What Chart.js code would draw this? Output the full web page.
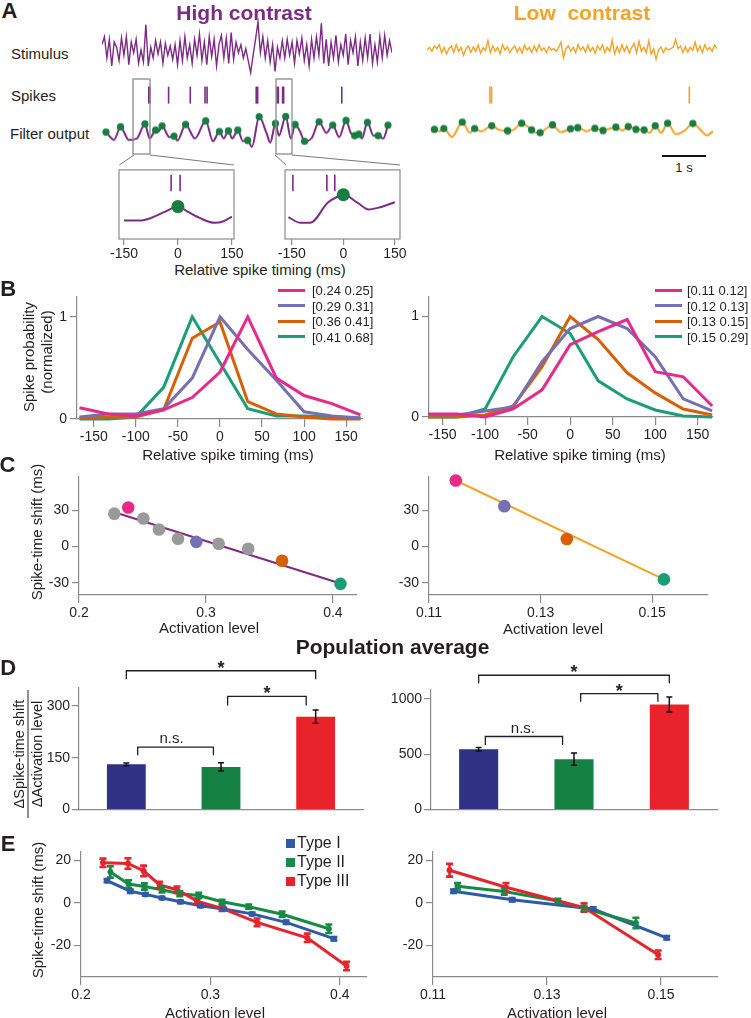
<!DOCTYPE html>
<html><head><meta charset="utf-8">
<script src="https://cdn.jsdelivr.net/npm/chart.js@4.4.1/dist/chart.umd.min.js"></script>
<style>
body{margin:0;background:#fff;}
#page{position:relative;width:751px;height:1018px;overflow:hidden;font-family:"Liberation Sans",Arial,Helvetica,sans-serif;color:#231f20;}
.t{position:absolute;white-space:pre;line-height:1;}
.c{transform:translate(-50%,-50%);}
.l{transform:translate(0,-50%);}
.v{transform:translate(-50%,-50%) rotate(-90deg);}
svg{position:absolute;left:0;top:0;}
</style></head><body><div id="page"></div>
<script>
// ---------------- DATA ----------------
// Panel A: stimulus samples (arbitrary units)
const stimHigh=[0.2,0.5,-0.3,0.4,-0.6,0.3,0.1,-0.4,0.45,-0.2,0.5,-0.55,0.3,
 -0.1,0.4,-0.5,0.0,-0.45,0.95,-0.6,
 0.1,-0.3,0.35,-0.15,0.3,-0.5,0.25,-0.2,0.15,-0.35,0.2,
 -0.55,0.35,-0.4,0.5,-0.3,0.2,-0.5,0.4,-0.2,0.6,-0.4,
 0.3,-0.55,0.5,-0.25,0.4,-0.6,0.2,0.55,-0.3,0.45,-0.5,0.65,-0.35,0.3,
 -0.1,0.2,-0.3,0.05,-0.4,-0.85,-0.2,
 0.4,1.05,-0.1,0.5,-0.3,
 0.35,-0.45,0.2,-0.8,0.1,-0.3,0.35,
 -0.3,0.4,-0.2,0.3,-0.5,0.35,-0.15,0.45,-0.4,0.2,-0.6,0.4,-0.3,0.5,-0.2,1.0,
 -0.5,0.4,-0.6,0.3,-0.3,0.55,-0.45,0.2,-0.2,0.6,-0.55,0.35,-0.1,0.5,-0.6,0.3,-0.4,0.45,-0.3,0.6,-0.5,0.2,-0.45,0.5,-0.3,0.55,-0.2,0.35,-0.1];
const stimLow=[0.0,0.1,-0.05,0.15,0.05,0.2,-0.1,0.1,-0.15,0.05,
 0.15,-0.1,0.2,-0.05,0.1,-0.2,0.05,0.15,-0.1,0.12,
 -0.05,0.18,-0.12,0.08,-0.02,0.35,-0.1,0.15,-0.05,0.1,
 -0.15,0.2,0.0,0.12,-0.1,0.05,0.15,-0.08,0.1,-0.12,
 0.18,0.0,0.1,-0.1,0.15,-0.05,0.2,-0.02,0.08,-0.1,
 0.12,0.0,0.05,-0.05,0.1,0.3,-0.3,0.05,0.15,-0.05,
 0.1,-0.1,0.2,0.0,0.12,-0.08,0.18,-0.05,0.1,-0.12,
 0.15,0.0,0.2,-0.1,0.1,-0.05,0.37,-0.15,0.12,-0.1,
 0.2,-0.05,0.15,-0.12,0.1,0.25,-0.1,0.32,-0.05,0.1,
 -0.1,0.34,-0.15,0.05,-0.35,0.0,0.12,-0.1,0.08,0.0,
 0.05,0.1,0.4,0.05,0.15,-0.1,0.12,-0.08,0.1,-0.02,
 0.3,-0.05,0.15,-0.1,0.2,0.0,0.1,-0.05,0.18,0.05];
// spike times (s)
const spikesHigh=[0.896,0.921,1.38,1.91,2.27,2.32,3.52,3.555,4.03,4.06,4.165,4.19,5.61];
const spikesLow=[1.29,1.33,6.16];
// filter output (time s, value)
const filtHT=[0.00,0.19,0.34,0.53,0.72,0.91,1.02,1.16,1.23,1.31,1.48,1.59,1.67,1.86,2.08,2.33,2.50,2.65,2.75,2.86,2.95,3.08,3.20,3.31,3.41,3.58,3.75,3.84,3.96,4.04,4.20,4.32,4.42,4.55,4.64,4.81,4.98,5.15,5.30,5.45,5.61,5.72,5.81,5.91,5.98,6.11,6.25,6.36,6.48,6.59];
const filtHV=[0.06,-0.5,0.44,-0.5,-0.4,0.64,-0.4,0.2,0.1,0.5,-0.3,-0.24,-0.55,0.6,-0.4,0.86,-0.6,0.1,-0.4,0.14,-0.4,0.2,-0.6,-0.54,-1.0,1.16,0.0,-0.7,0.68,-0.2,1.18,-0.4,0.6,0.0,-0.6,-0.36,0.8,0.0,0.56,-0.3,0.9,0.0,-0.2,-0.1,-0.4,0.76,-0.2,-0.2,-0.4,0.56];
const dotHT=[0.00,0.34,0.91,1.16,1.31,1.59,1.86,2.33,2.65,2.86,3.08,3.31,3.58,3.96,4.20,4.42,4.64,4.98,5.30,5.61,5.81,5.91,6.11,6.36,6.59];
const dotHV=[0.06,0.44,0.64,0.2,0.5,-0.24,0.6,0.86,0.1,0.14,0.2,-0.54,1.16,0.68,1.18,0.6,-0.6,0.8,0.56,0.9,-0.2,-0.1,0.76,-0.2,0.56];
const filtLT=[0.00,0.08,0.19,0.30,0.49,0.73,0.91,1.02,1.17,1.42,1.59,1.79,1.93,2.12,2.35,2.46,2.55,2.69,2.84,3.03,3.26,3.43,3.64,3.83,4.02,4.32,4.47,4.61,4.79,4.98,5.11,5.24,5.38,5.53,5.72,5.91,6.12,6.33,6.44,6.59];
const filtLV=[-0.1,0.04,-0.1,0.1,-0.5,0.56,-0.2,0.1,-0.1,0.3,0.0,-0.06,0.0,0.48,0.0,-0.2,-0.2,0.1,0.36,-0.16,0.08,0.16,-0.1,0.12,-0.04,0.2,-0.04,0.24,0.04,0.0,-0.2,0.3,-0.2,0.48,-0.3,-0.1,0.46,-0.1,-0.4,-0.1];
const dotLT=[0.08,0.30,0.73,1.02,1.42,1.79,2.12,2.35,2.55,2.84,3.26,3.43,3.83,4.02,4.32,4.61,4.79,4.98,5.24,5.53,6.12];
const dotLV=[0.04,0.1,0.56,0.1,0.3,-0.06,0.48,0.0,-0.2,0.36,0.08,0.16,0.12,-0.04,0.2,0.24,0.04,0.0,0.3,0.48,0.46];
// insets (ms, value)
const inset1T=[-150,-106,-76,-37,0,28,62,101,127,150];
const inset1V=[0.57,0.57,0.83,1.5,2.07,1.5,0.83,0.33,0.5,1.0];
const inset1Spikes=[-19,6];
const inset2T=[-160,-125,-97,-45,-16,0,41,74,107,150];
const inset2V=[0.93,0.33,0.33,2.5,3.15,3.35,2.5,1.77,2.0,2.53];
const inset2Spikes=[-147,-48,-25];
const insetTicks=[-150,0,150];
// Panel B
const bins=[-167,-133,-100,-67,-33,0,33,67,100,133,167];
const bTicks=[-150,-100,-50,0,50,100,150];
const legHigh=['[0.24 0.25]','[0.29 0.31]','[0.36 0.41]','[0.41 0.68]'];
const legLow=['[0.11 0.12]','[0.12 0.13]','[0.13 0.15]','[0.15 0.29]'];
const probHigh1=[0.11,0.05,0.03,0.09,0.21,0.46,1.0,0.40,0.23,0.15,0.04];
const probHigh2=[0.02,0.05,0.05,0.10,0.40,1.0,0.68,0.38,0.07,0.03,0.01];
const probHigh3=[0.01,0.02,0.02,0.09,0.79,0.95,0.17,0.05,0.02,0.0,0.0];
const probHigh4=[0.0,0.0,0.02,0.31,1.0,0.55,0.10,0.03,0.03,0.02,0.01];
const probLow1=[0.03,0.03,0.0,0.08,0.27,0.72,0.85,0.97,0.45,0.40,0.11];
const probLow2=[0.02,0.02,0.06,0.10,0.55,0.88,1.0,0.88,0.60,0.18,0.06];
const probLow3=[0.0,0.0,0.02,0.11,0.50,1.0,0.77,0.44,0.24,0.08,0.02];
const probLow4=[0.0,0.0,0.08,0.60,1.0,0.83,0.36,0.18,0.07,0.01,0.0];
// Panel C
const actHighC=[0.2278,0.2388,0.2507,0.263,0.278,0.2924,0.310,0.3333,0.360,0.406];
const shiftHighC=[27.2,32.3,23.2,14.1,6.5,3.9,2.3,-1.8,-11.7,-30.8];
const groupHighC=['g','p','g','g','g','b','g','g','o','t'];
const fitHighX=[0.2305,0.406];
const fitHighY=[27.5,-30.5];
const actLowC=[0.1148,0.1235,0.1347,0.1521];
const shiftLowC=[54.6,33.4,6.3,-27.1];
const groupLowC=['p','b','o','t'];
const fitLowX=[0.1148,0.1521];
const fitLowY=[54.6,-27.1];
// Panel D
const types=['Type I','Type II','Type III'];
const slopeHigh=[131,123.5,269];
const slopeHighErr=[4,12,19];
const slopeLow=[545,455,949];
const slopeLowErr=[15,55,68];
// Panel E
const eActI=[0.2201,0.2381,0.2497,0.2626,0.2768,0.2923,0.3103,0.3322,0.3585,0.3954];
const eShiftI=[10.5,5.5,4.0,2.3,0.5,-1.4,-2.9,-5.2,-9.2,-16.9];
const eErrI=[0.8,0.8,0.6,0.6,0.6,0.6,0.6,0.6,0.8,0.8];
const eActII=[0.2227,0.2368,0.249,0.2626,0.2763,0.291,0.309,0.3296,0.3554,0.3915];
const eShiftII=[14.6,8.9,7.7,6.2,4.3,3.5,0.5,-1.8,-5.4,-12.2];
const eErrII=[2.7,1.8,1.5,1.3,1.2,1.2,1.0,1.0,1.3,2.0];
const eActIII=[0.217,0.2363,0.2484,0.2608,0.2742,0.2897,0.309,0.3361,0.3748,0.4052];
const eShiftIII=[18.9,18.6,15.1,8.5,6.2,0.8,-2.6,-9.2,-16.5,-29.8];
const eErrIII=[2.0,2.5,2.5,1.5,1.5,1.2,1.2,1.8,2.0,2.0];
const eActI_L=[0.1136,0.1239,0.1381,0.151];
const eShiftI_L=[5.5,1.5,-2.9,-16.5];
const eErrI_L=[0.8,0.8,0.8,0.8];
const eActII_L=[0.1143,0.1225,0.1319,0.1365,0.1456];
const eShiftII_L=[7.8,5.4,0.9,-2.6,-9.5];
const eErrII_L=[1.5,1.5,1.0,1.2,2.5];
const eActIII_L=[0.1129,0.1228,0.1365,0.1495];
const eShiftIII_L=[15.4,7.4,-2.2,-24.5];
const eErrIII_L=[3.0,2.0,2.0,2.0];

// ---------------- STYLE ----------------
const PURPLE='#7c2a86', ORANGE='#f4a324', DOTG='#197d42';
const PINK='#e7298a', LAV='#7570b3', ORG='#d95f02', TEAL='#1b9e77', GRAY='#9a9a9a';
const groupColor={g:GRAY,p:PINK,b:LAV,o:ORG,t:TEAL};
const BAR=['#2e3184','#148041','#e8232b'];
const EC={I:'#2f5aa8',II:'#178a43',III:'#e6242b'};
const AX='#8a8a8a', INK='#231f20';
const FONT='"Liberation Sans", Arial, Helvetica, sans-serif';
Chart.defaults.font.family=FONT;
Chart.defaults.font.size=14;
Chart.defaults.color=INK;

const PAGE=document.getElementById('page');
function text(s,x,y,cls,style){const d=document.createElement('div');d.className='t '+cls;d.textContent=s;d.style.left=x+'px';d.style.top=y+'px';Object.assign(d.style,style||{});PAGE.appendChild(d);return d;}
function rect(x,y,w,h,color){const d=document.createElement('div');d.style.cssText=`position:absolute;left:${x}px;top:${y}px;width:${w}px;height:${h}px;background:${color}`;PAGE.appendChild(d);}
function xy(xs,ys){return xs.map((x,i)=>({x,y:ys[i]}));}

function makeChart(L,T,W,H,area,cfg){
  const c=document.createElement('canvas');
  c.width=W;c.height=H;
  c.style.cssText=`position:absolute;left:${L}px;top:${T}px;width:${W}px;height:${H}px`;
  PAGE.appendChild(c);
  const o=cfg.options;
  o.responsive=false;o.animation=false;o.events=[];
  o.plugins=Object.assign({legend:{display:false},tooltip:{enabled:false}},o.plugins||{});
  const sx=o.scales.x, sy=o.scales.y;
  const xs=sx.display!==false, ys=sy.display!==false;
  o.layout={padding:{top:area[1]-T,right:L+W-area[2],left:ys?0:area[0]-L,bottom:xs?0:T+H-area[3]}};
  if(ys) sy.afterFit=s=>{s.width=area[0]-L;};
  if(xs) sx.afterFit=s=>{s.height=T+H-area[3];};
  return new Chart(c,cfg);
}
function lin(min,max,ticks,opt){opt=opt||{};
  return {type:'linear',min,max,
    afterBuildTicks:s=>{s.ticks=ticks.map(v=>({value:v}));},
    grid:{drawOnChartArea:false,drawTicks:true,tickLength:opt.tl||8,color:AX,lineWidth:1.2},
    border:{display:opt.border!==false,color:AX,width:1.2},
    ticks:{padding:opt.pad!=null?opt.pad:2,color:INK,font:{size:14},callback:v=>String(v),maxRotation:0,autoSkip:false}};
}
function hid(min,max){return {type:'linear',min,max,display:false};}

const errPlugin={id:'err',afterDatasetsDraw(chart){const ctx=chart.ctx,ys=chart.scales.y;
  chart.data.datasets.forEach((ds,di)=>{if(!ds.errors)return;const meta=chart.getDatasetMeta(di);
    ctx.save();ctx.strokeStyle=ds.errColor||ds.borderColor;ctx.lineWidth=ds.errWidth||1.5;const cap=ds.errCap||3;
    meta.data.forEach((el,i)=>{const v=ds.data[i];const val=(typeof v==='object')?v.y:v;const e=ds.errors[i];
      const y1=ys.getPixelForValue(val+e),y2=ys.getPixelForValue(val-e);
      ctx.beginPath();ctx.moveTo(el.x,y1);ctx.lineTo(el.x,y2);
      ctx.moveTo(el.x-cap,y1);ctx.lineTo(el.x+cap,y1);ctx.moveTo(el.x-cap,y2);ctx.lineTo(el.x+cap,y2);ctx.stroke();});
    ctx.restore();});}};
const framePlugin={id:'frame',beforeDatasetsDraw(chart){const a=chart.chartArea,ctx=chart.ctx;ctx.save();ctx.strokeStyle='#8c8c8c';ctx.lineWidth=1.2;ctx.strokeRect(a.left,a.top,a.right-a.left,a.bottom-a.top);ctx.restore();}};
function bracketPlugin(list){return {id:'br',afterDraw(chart){const ctx=chart.ctx,xs=chart.scales.x,ys=chart.scales.y;
  ctx.save();ctx.strokeStyle=INK;ctx.fillStyle=INK;ctx.lineWidth=1.3;ctx.textAlign='center';ctx.textBaseline='alphabetic';
  list.forEach(b=>{const xa=xs.getPixelForValue(b.from),xb=xs.getPixelForValue(b.to),y=ys.getPixelForValue(b.level),yd=ys.getPixelForValue(b.level-b.drop);
    ctx.beginPath();ctx.moveTo(xa,yd);ctx.lineTo(xa,y);ctx.lineTo(xb,y);ctx.lineTo(xb,yd);ctx.stroke();
    const mx=(xa+xb)/2+(b.dx||0);
    if(b.label==='*'){ctx.font='bold 18px '+FONT;ctx.fillText('*',mx,y+3);}
    else{ctx.font='15px '+FONT;ctx.fillText(b.label,mx,y-4);}});
  ctx.restore();}};}

// ---------------- PANEL A ----------------
function traceChart(L,T,W,H,vals,ymin,ymax,color){
  makeChart(L,T,W,H,[L,T,L+W,T+H],{type:'scatter',data:{datasets:[{data:vals.map((v,i)=>({x:i,y:v})),showLine:true,borderColor:color,borderWidth:1.4,pointRadius:0,clip:false}]},
    options:{scales:{x:hid(0,vals.length-1),y:hid(ymin,ymax)}}});
}
function spikeChart(L,T,W,H,times,color){
  makeChart(L,T,W,H,[L,T,L+W,T+H],{type:'scatter',data:{datasets:[{data:times.map(t=>({x:t,y:0})),pointStyle:'line',rotation:90,pointRadius:8.5,borderColor:color,borderWidth:1.6,clip:false}]},
    options:{scales:{x:hid(0,6.59),y:hid(-1,1)}}});
}
function filterChart(L,T,W,H,ft,fv,dt,dv,color){
  makeChart(L,T,W,H,[L,T,L+W,T+H],{type:'scatter',data:{datasets:[
    {data:xy(dt,dv),pointRadius:3.6,pointBackgroundColor:DOTG,pointBorderWidth:0,clip:false},
    {data:xy(ft,fv),showLine:true,borderColor:color,borderWidth:2,pointRadius:0,cubicInterpolationMode:'monotone',clip:false}]},
    options:{scales:{x:hid(0,6.59),y:hid(-1.3,1.5)}}});
}
traceChart(101.7,18,290,64,stimHigh,-1.2,1.2,PURPLE);
traceChart(426.7,18,290,64,stimLow,-1.2,1.2,ORANGE);
spikeChart(101.7,85,290,20,spikesHigh,PURPLE);
spikeChart(426.7,85,290,20,spikesLow,ORANGE);
filterChart(101.7,108.3,290,46.7,filtHT,filtHV,dotHT,dotHV,PURPLE);
filterChart(426.7,105,290,46.7,filtLT,filtLV,dotLT,dotLV,ORANGE);

function insetChart(L,T,W,H,area,xmin,xmax,tt,tv,spk){
  const i0=tt.indexOf(0);
  makeChart(L,T,W,H,area,{type:'scatter',data:{datasets:[
    {data:[{x:0,y:tv[i0]}],pointRadius:6.5,pointBackgroundColor:DOTG,pointBorderWidth:0,clip:false},
    {data:spk.map(t=>({x:t,y:4.6})),pointStyle:'line',rotation:90,pointRadius:8.3,borderColor:PURPLE,borderWidth:1.6,clip:false},
    {data:xy(tt,tv),showLine:true,borderColor:PURPLE,borderWidth:2,pointRadius:0,cubicInterpolationMode:'monotone',clip:false}]},
    options:{scales:{x:lin(xmin,xmax,insetTicks,{tl:6,pad:1,border:false}),y:hid(-1.4,6)}},plugins:[framePlugin]});
}
insetChart(100,160,150,100,[119,165,234,239],-164,156,inset1T,inset1V,inset1Spikes);
insetChart(270,160,145,100,[285,165,400,239],-170,165,inset2T,inset2V,inset2Spikes);

// ---------------- PANEL B ----------------
function bChart(L,W,area,xmin,xmax,series){
  makeChart(L,285,W,180,area,{type:'scatter',data:{datasets:series.map(([d,c])=>({data:bins.map((x,i)=>({x,y:d[i]})),showLine:true,borderColor:c,borderWidth:3,pointRadius:0,clip:false}))},
    options:{scales:{x:lin(xmin,xmax,bTicks),y:lin(0,1.2,[0,1],{tl:7,pad:3})}}});
}
bChart(0,375,[77,292,363,419],-170,170,[[probHigh1,PINK],[probHigh2,LAV],[probHigh3,ORG],[probHigh4,TEAL]]);
bChart(380,371,[429,292,713,417],-166,168,[[probLow1,PINK],[probLow2,LAV],[probLow3,ORG],[probLow4,TEAL]]);

// ---------------- PANEL C ----------------
function cChart(L,W,area,xmin,xmax,xt,ax,ay,grp,fx,fy,lineColor){
  makeChart(L,465,W,155,area,{type:'scatter',data:{datasets:[
    {data:xy(ax,ay),pointRadius:6.3,pointBackgroundColor:grp.map(g=>groupColor[g]),pointBorderWidth:0,clip:false},
    {data:xy(fx,fy),showLine:true,borderColor:lineColor,borderWidth:2,pointRadius:0,clip:false}]},
    options:{scales:{x:lin(xmin,xmax,xt),y:lin(-40,58,[-30,0,30],{tl:7,pad:3})}}});
}
cChart(0,375,[79,470,357,595],0.2,0.419,[0.2,0.3,0.4],actHighC,shiftHighC,groupHighC,fitHighX,fitHighY,PURPLE);
cChart(380,371,[429,470,708,595],0.11,0.16,[0.11,0.13,0.15],actLowC,shiftLowC,groupLowC,fitLowX,fitLowY,ORANGE);

// ---------------- PANEL D ----------------
function dChart(L,W,area,ymax,yt,vals,errs,brk){
  makeChart(L,652,W,168,area,{type:'bar',data:{labels:types,datasets:[{data:vals,errors:errs,errColor:'#111',errWidth:1.5,errCap:3,backgroundColor:BAR,barPercentage:0.41,categoryPercentage:1}]},
    options:{scales:{x:{type:'category',grid:{display:false},ticks:{display:false},border:{display:true,color:AX,width:1.2}},y:lin(0,ymax,yt,{tl:7,pad:2})}},
    plugins:[errPlugin,bracketPlugin(brk)]});
}
dChart(0,375,[79,688,363,817],352,[0,150,300],slopeHigh,slopeHighErr,
  [{from:0,to:2,level:402,drop:25,label:'*'},{from:1.07,to:1.9,level:328,drop:27,label:'*'},{from:0.12,to:0.92,level:181,drop:24,label:'n.s.',dx:-4}]);
dChart(380,371,[431,690,717,818],1080,[0,500,1000],slopeLow,slopeLowErr,
  [{from:0,to:2,level:1213,drop:71,label:'*'},{from:1.07,to:1.88,level:1047,drop:73,label:'*'},{from:0.07,to:0.88,level:660,drop:76,label:'n.s.',dx:-1}]);

// ---------------- PANEL E ----------------
function eDs(ax,ay,er,c){return {data:xy(ax,ay),errors:er,errWidth:2.6,errCap:3.5,showLine:true,borderColor:c,backgroundColor:c,borderWidth:3,pointRadius:3,pointBackgroundColor:c,pointBorderWidth:0,clip:false};}
function eChart(L,W,area,xmin,xmax,xt,sets){
  makeChart(L,840,W,168,area,{type:'scatter',data:{datasets:sets},
    options:{scales:{x:lin(xmin,xmax,xt),y:lin(-35,24.3,[-20,0,20],{tl:7,pad:3})}},plugins:[errPlugin]});
}
eChart(0,375,[81,848,367,977],0.2,0.421,[0.2,0.3,0.4],[eDs(eActIII,eShiftIII,eErrIII,EC.III),eDs(eActII,eShiftII,eErrII,EC.II),eDs(eActI,eShiftI,eErrI,EC.I)]);
eChart(380,371,[433,848,718,977],0.11,0.16,[0.11,0.13,0.15],[eDs(eActIII_L,eShiftIII_L,eErrIII_L,EC.III),eDs(eActII_L,eShiftII_L,eErrII_L,EC.II),eDs(eActI_L,eShiftI_L,eErrI_L,EC.I)]);

// ---------------- TEXT & DECOR ----------------
const B22={fontWeight:'bold',fontSize:'22px'};
const F15={fontSize:'15px'};
text('A',9.5,10.5,'c',B22);
text('High contrast',244,11.5,'c',{fontWeight:'bold',fontSize:'21px',color:PURPLE});
text('Low  contrast',582,11.5,'c',{fontWeight:'bold',fontSize:'21px',color:ORANGE});
text('Stimulus',11,52.5,'l',F15);
text('Spikes',11,95,'l',F15);
text('Filter output',10,133,'l',F15);
text('1 s',684,167,'c',{fontSize:'13px'});
text('Relative spike timing (ms)',260,268.5,'c',F15);

text('B',8.3,288.5,'c',B22);
text('Spike probability',27.5,356.5,'v',F15);
text('(normalized)',46,352,'v',F15);
text('Relative spike timing (ms)',228,453.5,'c',F15);
text('Relative spike timing (ms)',580,454,'c',F15);
const legRows=[290,305.5,321,336.5], legCols=[PINK,LAV,ORG,TEAL];
legRows.forEach((y,i)=>{rect(278,y-1.5,27,3,legCols[i]);text(legHigh[i],312,y,'l',{fontSize:'13px'});
  rect(655,y-1.5,27,3,legCols[i]);text(legLow[i],687,y,'l',{fontSize:'13px'});});

text('C',7.5,465,'c',B22);
text('Spike-time shift (ms)',36,532,'v',F15);
text('Activation level',209,626.7,'c',F15);
text('Activation level',553,628,'c',F15);

text('Population average',392.5,646,'c',{fontWeight:'bold',fontSize:'21px'});
text('D',8.3,667.5,'c',B22);
text('\u0394Spike-time shift',19,754,'v',{fontSize:'14.5px'});
text('\u0394Activation level',37,754,'v',{fontSize:'14.5px'});

text('E',8,844,'c',B22);
text('Spike-time shift (ms)',37,910,'v',F15);
text('Activation level',215,1011.7,'c',F15);
text('Activation level',557,1012,'c',F15);
[['Type I',EC.I,843.3],['Type II',EC.II,862.3],['Type III',EC.III,881]].forEach(([s,c,y])=>{rect(285.5,y-4.5,9,9,c);text(s,297,y,'l',{fontSize:'16px'});});

const svgNS='http://www.w3.org/2000/svg';
const svg=document.createElementNS(svgNS,'svg');svg.setAttribute('width','751');svg.setAttribute('height','1018');
function sv(tag,attrs){const e=document.createElementNS(svgNS,tag);for(const k in attrs)e.setAttribute(k,attrs[k]);svg.appendChild(e);}
sv('rect',{x:133,y:79,width:17,height:75,fill:'none',stroke:'#8c8c8c','stroke-width':1.3});
sv('rect',{x:276,y:79,width:16,height:75,fill:'none',stroke:'#8c8c8c','stroke-width':1.3});
sv('line',{x1:134,y1:155,x2:119.3,y2:165,stroke:'#555','stroke-width':0.8});
sv('line',{x1:150,y1:155,x2:234,y2:165,stroke:'#555','stroke-width':0.8});
sv('line',{x1:275,y1:155,x2:286,y2:165,stroke:'#555','stroke-width':0.8});
sv('line',{x1:292,y1:155,x2:400,y2:165,stroke:'#555','stroke-width':0.8});
sv('line',{x1:662,y1:156,x2:706,y2:156,stroke:'#111','stroke-width':2.2});
sv('line',{x1:28,y1:690,x2:28,y2:818,stroke:INK,'stroke-width':1});
PAGE.appendChild(svg);
</script></body></html>
